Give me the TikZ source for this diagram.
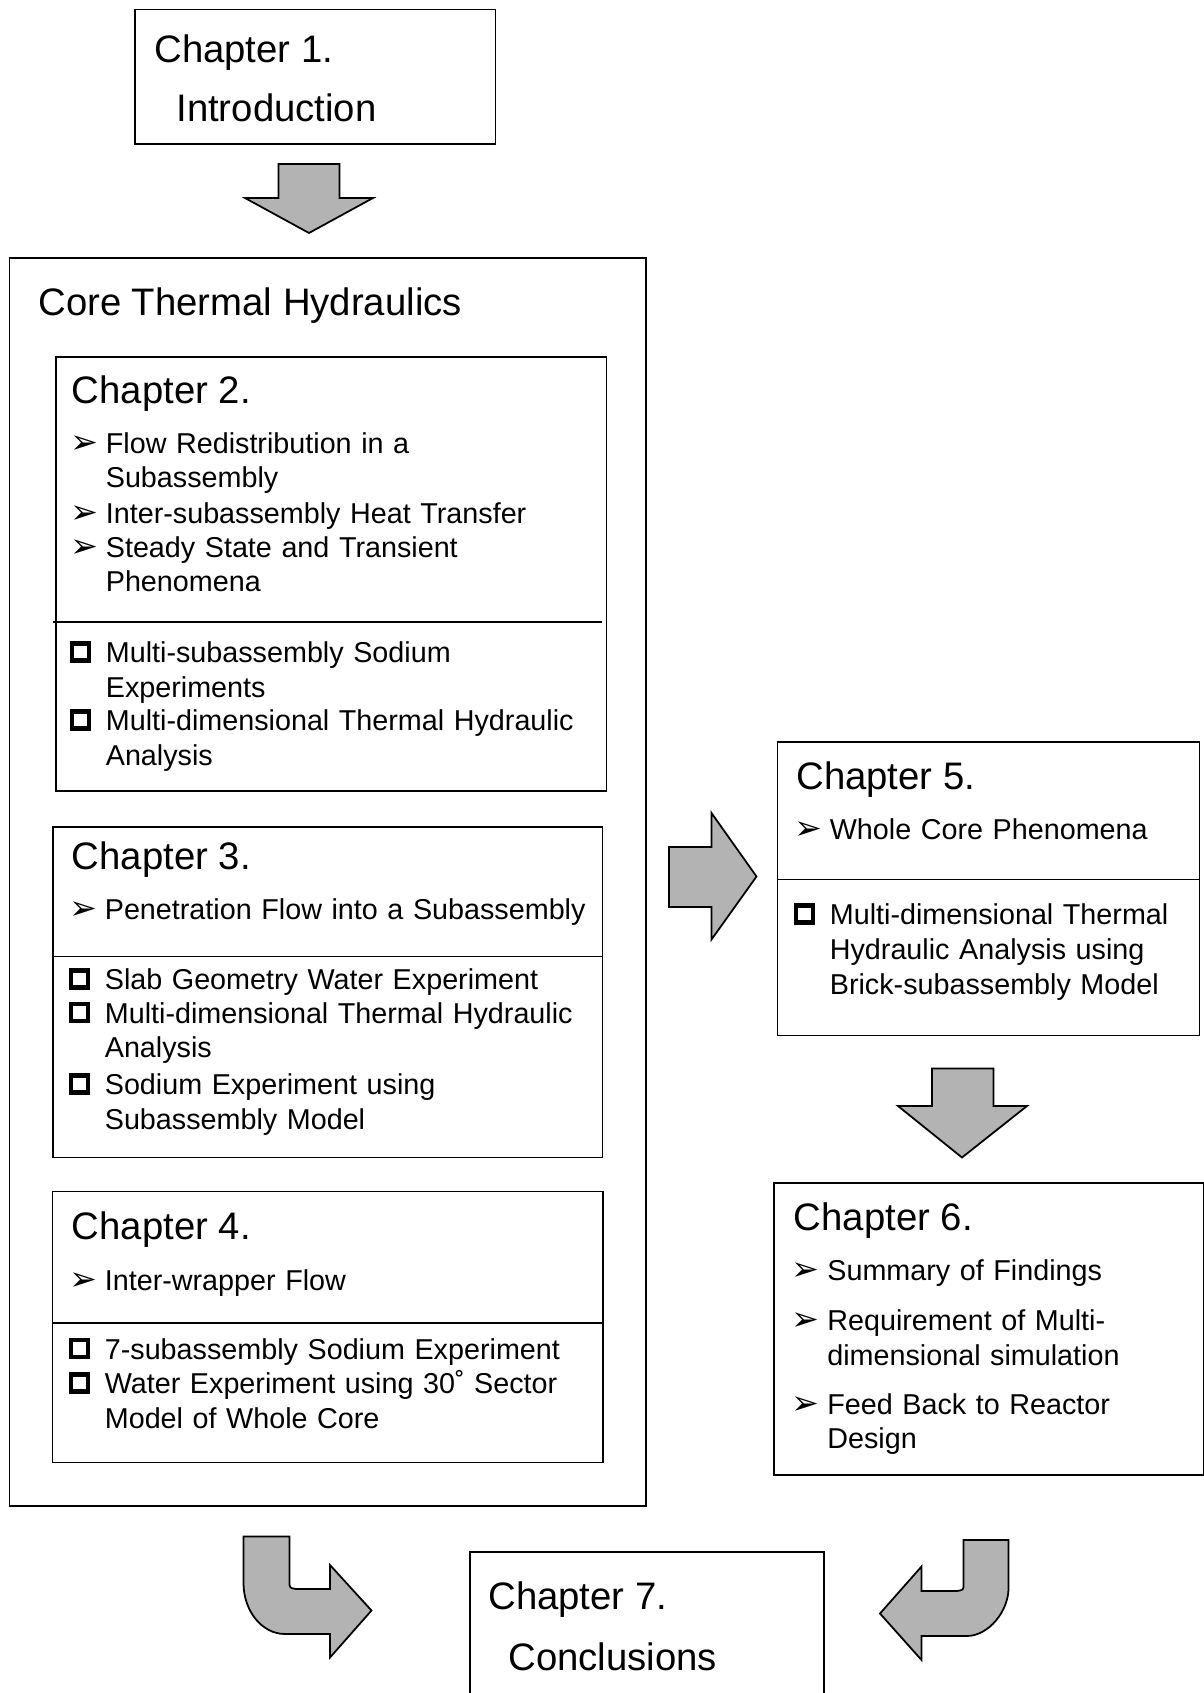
\documentclass[tikz,border=0pt]{standalone}
\usepackage{fontspec}
\setmainfont{Liberation Sans}
\newfontfamily\dingfont{DejaVu Sans}
\usepackage{tikz}
\definecolor{arrowgray}{RGB}{179,179,179}

\begin{document}
\begin{tikzpicture}[
		frame/.style={draw, line width=1.1pt},
		blockarrow/.style={draw, line width=1pt, fill=arrowgray, line join=miter},
		chap/.style={anchor=base west, inner sep=0pt, font=\fontsize{21.8}{25}\selectfont},
		entry/.style={anchor=base west, inner sep=0pt, align=left, text width=10cm, font=\fontsize{16.35}{19.9}\selectfont},
		tri/.style={anchor=base west, inner sep=0pt, font=\dingfont\fontsize{19}{19}\selectfont},
		sq/.style={draw, line width=2.3pt, minimum size=0.34cm, inner sep=0pt, outer sep=0pt}]
	\useasboundingbox (0,0) rectangle (24.08,-33.86);

	% chapter 1
	\draw[frame] (2.70,-0.19) rectangle (9.91,-2.88);
	\node[chap] (c1a) at (3.08,-1.26) {Chapter 1.};
	\node[chap] (c1b) at (3.52,-2.44) {Introduction};
	\draw[blockarrow] (5.57,-3.28) -- (6.79,-3.28) -- (6.79,-3.96) -- (7.46,-3.96) -- (6.18,-4.66) -- (4.90,-3.96) -- (5.57,-3.96) -- cycle;

	% core thermal hydraulics
	\draw[frame] (0.19,-5.16) rectangle (12.92,-30.12);
	\node[chap] (core) at (0.76,-6.30) {Core Thermal Hydraulics};

	% chapter 2
	\draw[frame] (1.12,-7.14) rectangle (12.13,-15.82);
	\node[chap] (c2) at (1.43,-8.06) {Chapter 2.};
	\node[tri] (c2t1) at (1.40,-9.06) {➢};
	\node[entry] (c2i1) at (2.11,-9.06) {Flow Redistribution in a\\Subassembly};
	\node[tri] (c2t2) at (1.40,-10.46) {➢};
	\node[entry] (c2i2) at (2.11,-10.46) {Inter-subassembly Heat Transfer};
	\node[tri] (c2t3) at (1.40,-11.14) {➢};
	\node[entry] (c2i3) at (2.11,-11.14) {Steady State and Transient\\Phenomena};
	\draw[frame] (1.06,-12.44) -- (12.04,-12.44);
	\node[sq] (c2s1) at (1.61,-13.04) {};
	\node[entry] (c2i4) at (2.11,-13.25) {Multi-subassembly Sodium\\Experiments};
	\node[sq] (c2s2) at (1.61,-14.40) {};
	\node[entry] (c2i5) at (2.11,-14.61) {Multi-dimensional Thermal Hydraulic\\Analysis};

	% chapter 3
	\draw[frame] (1.06,-16.54) rectangle (12.05,-23.15);
	\node[chap] (c3) at (1.43,-17.38) {Chapter 3.};
	\node[tri] (c3t1) at (1.38,-18.39) {➢};
	\node[entry] (c3i1) at (2.09,-18.39) {Penetration Flow into a Subassembly};
	\draw[frame] (1.06,-19.13) -- (12.05,-19.13);
	\node[sq] (c3s1) at (1.59,-19.58) {};
	\node[entry] (c3i2) at (2.09,-19.79) {Slab Geometry Water Experiment};
	\node[sq] (c3s2) at (1.59,-20.25) {};
	\node[entry] (c3i3) at (2.09,-20.46) {Multi-dimensional Thermal Hydraulic\\Analysis};
	\node[sq] (c3s3) at (1.59,-21.68) {};
	\node[entry] (c3i4) at (2.09,-21.89) {Sodium Experiment using\\Subassembly Model};

	% chapter 4
	\draw[frame] (1.05,-23.83) rectangle (12.06,-29.25);
	\node[chap] (c4) at (1.43,-24.79) {Chapter 4.};
	\node[tri] (c4t1) at (1.38,-25.80) {➢};
	\node[entry] (c4i1) at (2.09,-25.80) {Inter-wrapper Flow};
	\draw[frame] (1.05,-26.46) -- (12.06,-26.46);
	\node[sq] (c4s1) at (1.59,-26.97) {};
	\node[entry] (c4i2) at (2.09,-27.18) {7-subassembly Sodium Experiment};
	\node[sq] (c4s2) at (1.59,-27.66) {};
	\node[entry] (c4i3) at (2.09,-27.87) {Water Experiment using 30˚ Sector\\Model of Whole Core};

	\draw[blockarrow] (13.38,-16.94) -- (14.23,-16.94) -- (14.23,-16.26) -- (15.13,-17.53) -- (14.23,-18.79) -- (14.23,-18.14) -- (13.38,-18.14) -- cycle;

	% chapter 5
	\draw[frame] (15.55,-14.84) rectangle (23.99,-20.71);
	\node[chap] (c5) at (15.92,-15.79) {Chapter 5.};
	\node[tri] (c5t1) at (15.88,-16.79) {➢};
	\node[entry] (c5i1) at (16.59,-16.79) {Whole Core Phenomena};
	\draw[frame] (15.55,-17.59) -- (23.99,-17.59);
	\node[sq] (c5s1) at (16.09,-18.28) {};
	\node[entry] (c5i2) at (16.59,-18.49) {Multi-dimensional Thermal\\Hydraulic Analysis using\\Brick-subassembly Model};

	\draw[blockarrow] (18.64,-21.37) -- (19.87,-21.37) -- (19.87,-22.12) -- (20.54,-22.12) -- (19.24,-23.15) -- (17.96,-22.12) -- (18.64,-22.12) -- cycle;

	% chapter 6
	\draw[frame] (15.48,-23.66) rectangle (24.07,-29.50);
	\node[chap] (c6) at (15.87,-24.60) {Chapter 6.};
	\node[tri] (c6t1) at (15.83,-25.61) {➢};
	\node[entry] (c6i1) at (16.54,-25.61) {Summary of Findings};
	\node[tri] (c6t2) at (15.83,-26.61) {➢};
	\node[entry] (c6i2) at (16.54,-26.61) {Requirement of Multi-\\dimensional simulation};
	\node[tri] (c6t3) at (15.83,-28.28) {➢};
	\node[entry] (c6i3) at (16.54,-28.28) {Feed Back to Reactor\\Design};

	% bent arrows and chapter 7
	\draw[blockarrow] (4.87,-30.73) -- (5.79,-30.73) -- (5.79,-31.63) .. controls (5.79,-31.76) .. (5.93,-31.78) -- (6.60,-31.78) -- (6.60,-31.30) -- (7.43,-32.21) -- (6.60,-33.15) -- (6.60,-32.68) -- (5.70,-32.68) .. controls (5.24,-32.68) and (4.87,-32.22) .. (4.87,-31.66) -- cycle;
	\draw[blockarrow] (20.17,-30.80) -- (19.27,-30.80) -- (19.27,-31.68) .. controls (19.27,-31.80) .. (19.13,-31.82) -- (18.43,-31.82) -- (18.43,-31.33) -- (17.60,-32.27) -- (18.43,-33.20) -- (18.43,-32.72) -- (19.33,-32.72) .. controls (19.79,-32.72) and (20.17,-32.20) .. (20.17,-31.77) -- cycle;
	\draw[frame] (9.40,-34.20) -- (9.40,-31.04) -- (16.48,-31.04) -- (16.48,-34.20);
	\node[chap] (c7a) at (9.76,-32.19) {Chapter 7.};
	\node[chap] (c7b) at (10.16,-33.40) {Conclusions};
\end{tikzpicture}
\end{document}
